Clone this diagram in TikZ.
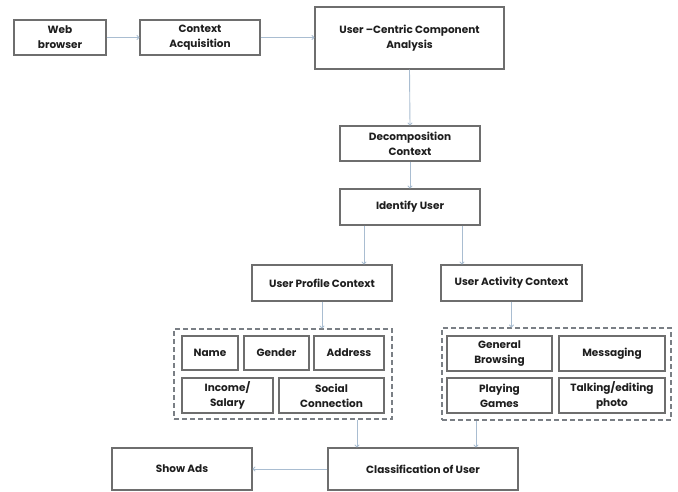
\documentclass[tikz,border=0pt]{standalone}
\usepackage{fontspec}
\setmainfont{Poppins}
\usetikzlibrary{arrows.meta}
\definecolor{boxline}{HTML}{6E6E6E}
\definecolor{grpline}{HTML}{7A7F85}
\definecolor{arrowc}{HTML}{A9BDD1}
\definecolor{txt}{HTML}{1E1E1E}
\tikzset{
  box/.style={draw=boxline, line width=1.1pt, fill=white, align=center, text=txt,
    font=\fontsize{10.5}{15}\selectfont\bfseries, inner sep=1pt},
  grp/.style={draw=grpline, line width=1.1pt, dash pattern=on 5pt off 3pt},
  arr/.style={draw=arrowc, line width=0.9pt, -{To[length=3pt,width=5pt]}}
}
\begin{document}
\begin{tikzpicture}[x=1pt,y=-1pt]
\useasboundingbox (0,0) rectangle (678,492);
\node[box, minimum width=92pt, minimum height=35pt] (web) at (60,37.5) {Web\\browser};
\node[box, minimum width=120pt, minimum height=35pt] (ctx) at (200,37.5) {Context\\Acquisition};
\node[box, minimum width=189pt, minimum height=62pt] (ucca) at (409.5,38) {User --Centric Component\\Analysis};
\node[box, minimum width=140pt, minimum height=35pt] (dec) at (410,143.5) {Decomposition\\Context};
\node[box, minimum width=140pt, minimum height=36pt] (idu) at (410,207) {Identify User};
\node[box, minimum width=140pt, minimum height=36pt] (upc) at (322,283) {User Profile Context};
\node[box, minimum width=141pt, minimum height=36pt] (uac) at (511.5,283) {User Activity Context};
\node[grp, minimum width=218pt, minimum height=90pt] (dl) at (283,374) {};
\node[grp, minimum width=229pt, minimum height=92pt] (dr) at (556.5,374) {};
\node[box, minimum width=56pt, minimum height=34pt] (name) at (210,353) {Name};
\node[box, minimum width=65pt, minimum height=34pt] (gender) at (276.5,353) {Gender};
\node[box, minimum width=70pt, minimum height=34pt] (address) at (349,353) {Address};
\node[box, minimum width=91pt, minimum height=35pt] (income) at (227.5,395.5) {Income/\\Salary};
\node[box, minimum width=105pt, minimum height=35pt] (social) at (331.5,395.5) {Social\\Connection};
\node[box, minimum width=105pt, minimum height=35pt] (gb) at (499.5,353.5) {General\\Browsing};
\node[box, minimum width=106pt, minimum height=35pt] (msg) at (612,353.5) {Messaging};
\node[box, minimum width=105pt, minimum height=35pt] (pg) at (499.5,395.5) {Playing\\Games};
\node[box, minimum width=106pt, minimum height=35pt] (talk) at (612,395.5) {Talking/editing\\photo};
\node[box, minimum width=140pt, minimum height=42pt] (ads) at (182,469) {Show Ads};
\node[box, minimum width=190pt, minimum height=42pt] (cls) at (423,469) {Classification of User};
\draw[arr] (web.east) -- (ctx.west);
\draw[arr] (ctx.east) -- (ctx.east -| ucca.west);
\draw[arr] (ucca.south) -- (dec.north);
\draw[arr] (dec.south) -- (idu.north);
\draw[arr] ([xshift=-46pt]idu.south) -- ([xshift=42pt]upc.north);
\draw[arr] ([xshift=52pt]idu.south) -- ([xshift=-49.5pt]uac.north);
\draw[arr] (upc.south) -- (upc.south |- dl.north);
\draw[arr] (uac.south) -- (uac.south |- dr.north);
\draw[arr] ([xshift=74pt]dl.south) -- ([xshift=-66pt]cls.north);
\draw[arr] ([xshift=-80.5pt]dr.south) -- ([xshift=53pt]cls.north);
\draw[arr] (cls.west) -- (ads.east);
\end{tikzpicture}
\end{document}
